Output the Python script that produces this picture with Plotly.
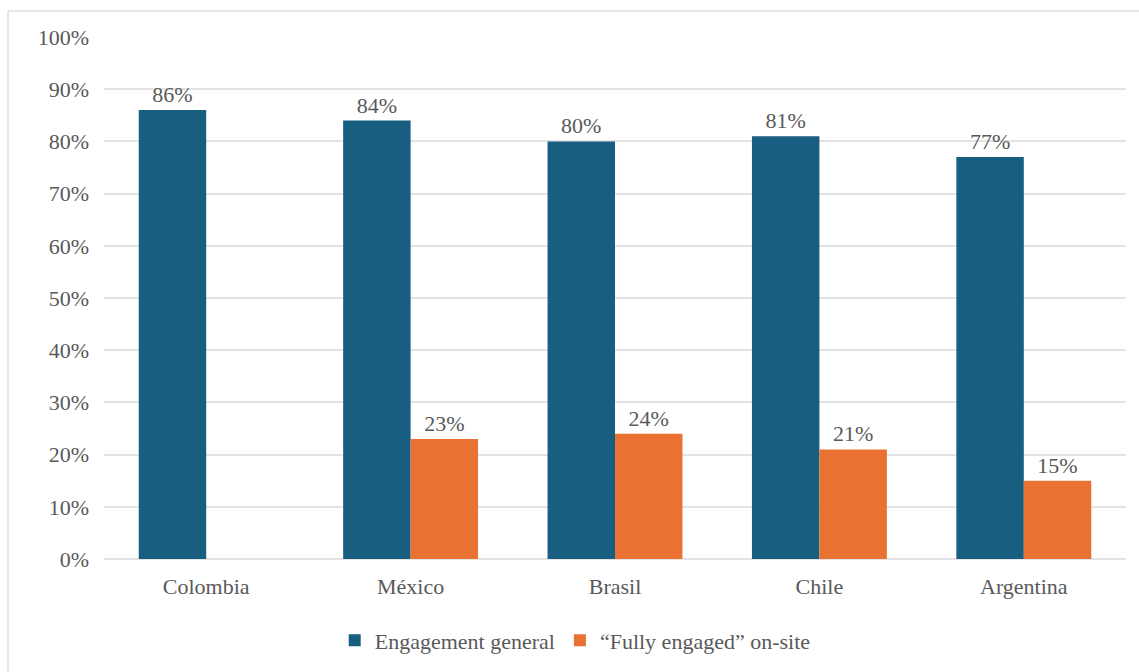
import plotly.graph_objects as go

countries = ["Colombia", "México", "Brasil", "Chile", "Argentina"]
engagement_general = [86, 84, 80, 81, 77]
fully_engaged_onsite = [None, 23, 24, 21, 15]
y_ticks = list(range(0, 101, 10))
y_tick_labels = [f"{v}%" for v in y_ticks]

BLUE = "#185E80"
ORANGE = "#E97132"
TEXT = "#595959"
FONT = "Liberation Serif"
SIZE = 22


def pct_labels(values):
    return [f"{v}%" if v is not None else "" for v in values]


fig = go.Figure()
fig.add_trace(go.Bar(
    name="Engagement general",
    x=countries,
    y=engagement_general,
    marker=dict(color=BLUE, line=dict(width=0)),
    text=pct_labels(engagement_general),
    texttemplate="%{text}",
    textposition="outside",
    textfont=dict(family=FONT, size=SIZE, color=TEXT),
    cliponaxis=False,
))
fig.add_trace(go.Bar(
    name="\u201cFully engaged\u201d on-site",
    x=countries,
    y=fully_engaged_onsite,
    marker=dict(color=ORANGE, line=dict(width=0)),
    text=pct_labels(fully_engaged_onsite),
    texttemplate="%{text}",
    textposition="outside",
    textfont=dict(family=FONT, size=SIZE, color=TEXT),
    cliponaxis=False,
))

fig.update_layout(
    width=1139,
    height=672,
    paper_bgcolor="white",
    plot_bgcolor="white",
    barmode="group",
    bargap=0.34,
    bargroupgap=0,
    margin=dict(l=104, r=13, t=37, b=113),
    font=dict(family=FONT, size=SIZE, color=TEXT),
    legend=dict(
        orientation="h",
        xref="container",
        yref="container",
        x=0.505,
        xanchor="center",
        y=0.047,
        yanchor="middle",
        font=dict(family=FONT, size=SIZE, color=TEXT),
        itemwidth=30,
        traceorder="normal",
    ),
    xaxis=dict(
        showgrid=False,
        showline=False,
        ticks="",
        tickfont=dict(family=FONT, size=SIZE, color=TEXT),
        ticklabelstandoff=12,
    ),
    yaxis=dict(
        range=[0, 100],
        tickvals=y_ticks,
        ticktext=y_tick_labels,
        showgrid=True,
        gridcolor="#E3E3E3",
        gridwidth=2,
        zeroline=True,
        zerolinecolor="#E3E3E3",
        zerolinewidth=2,
        showline=False,
        ticks="",
        tickfont=dict(family=FONT, size=SIZE, color=TEXT),
        ticklabelstandoff=14,
    ),
    shapes=[
        dict(type="line", xref="paper", yref="paper",
             x0=-96 / 1022, x1=1.02, y0=1 + 26 / 522, y1=1 + 26 / 522,
             line=dict(color="#E6E6E6", width=2)),
        dict(type="line", xref="paper", yref="paper",
             x0=-96 / 1022, x1=-96 / 1022, y0=1 + 26 / 522, y1=-120 / 522,
             line=dict(color="#E6E6E6", width=2)),
    ],
)

fig.write_html("out.html")
